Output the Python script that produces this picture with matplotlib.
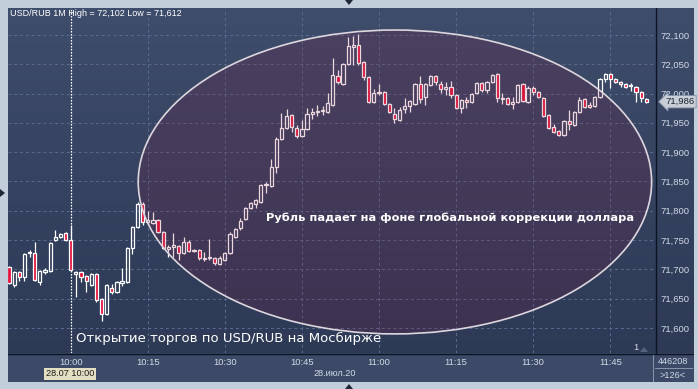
import matplotlib
matplotlib.use('Agg')
import matplotlib.pyplot as plt
from matplotlib.patches import Rectangle, Ellipse, Polygon
from matplotlib.colors import LinearSegmentedColormap
from matplotlib.lines import Line2D
import matplotlib.transforms as mtransforms
import numpy as np

plt.rcParams['font.family'] = ['Liberation Sans', 'DejaVu Sans']

# ---------------- data ----------------
minutes = list(range(-12, 113))  # minutes relative to 10:00
opens = [71.704, 71.673, 71.696, 71.687, 71.728, 71.728, 71.679, 71.696, 71.697, 71.750,
         71.755, 71.762, 71.750, 71.692, 71.696, 71.689, 71.673, 71.692, 71.650, 71.624,
         71.668, 71.661, 71.677, 71.679, 71.737, 71.772, 71.812, 71.781, 71.779, 71.784,
         71.764, 71.735, 71.738, 71.740, 71.728, 71.747, 71.731, 71.733, 71.719, 71.719,
         71.719, 71.709, 71.716, 71.728, 71.755, 71.771, 71.786, 71.805, 71.812, 71.815,
         71.844, 71.842, 71.875, 71.923, 71.941, 71.963, 71.941, 71.928, 71.940, 71.965,
         71.969, 71.970, 71.969, 71.981, 72.030, 72.016, 72.051, 72.080, 72.083, 72.054,
         72.028, 71.986, 72.001, 72.003, 71.982, 71.965, 71.955, 71.974, 71.979, 71.982,
         72.016, 71.994, 72.015, 72.030, 72.016, 72.008, 72.011, 71.998, 71.975, 71.989,
         71.986, 72.001, 72.018, 72.006, 72.020, 72.033, 71.992, 71.992, 71.982, 71.986,
         72.016, 71.986, 72.010, 72.003, 71.992, 71.963, 71.943, 71.936, 71.929, 71.953,
         71.946, 71.969, 71.991, 71.981, 71.979, 71.994, 72.025, 72.033, 72.025, 72.020,
         72.016, 72.013, 72.011, 72.003, 71.991]
highs = [71.706, 71.697, 71.697, 71.728, 71.733, 71.747, 71.699, 71.702, 71.747, 71.767,
         71.762, 71.764, 71.776, 71.697, 71.697, 71.690, 71.694, 71.694, 71.651, 71.675,
         71.675, 71.680, 71.702, 71.738, 71.774, 71.814, 71.814, 71.800, 71.798, 71.786,
         71.766, 71.742, 71.762, 71.742, 71.755, 71.750, 71.735, 71.735, 71.730, 71.752,
         71.721, 71.723, 71.730, 71.764, 71.771, 71.788, 71.807, 71.815, 71.820, 71.846,
         71.849, 71.888, 71.925, 71.967, 71.974, 71.965, 71.946, 71.955, 71.975, 71.975,
         71.981, 71.979, 72.001, 72.061, 72.040, 72.052, 72.097, 72.098, 72.102, 72.056,
         72.030, 72.008, 72.016, 72.005, 71.984, 71.975, 71.977, 71.992, 71.989, 72.018,
         72.030, 72.018, 72.032, 72.032, 72.022, 72.020, 72.022, 72.000, 71.991, 71.994,
         72.001, 72.020, 72.020, 72.022, 72.034, 72.035, 72.001, 71.994, 71.994, 72.017,
         72.018, 72.012, 72.013, 72.005, 71.994, 71.965, 71.948, 71.938, 71.955, 71.972,
         71.971, 71.994, 71.993, 71.986, 71.996, 72.027, 72.035, 72.035, 72.027, 72.022,
         72.018, 72.018, 72.013, 72.005, 71.992]
lows = [71.675, 71.670, 71.680, 71.680, 71.721, 71.680, 71.673, 71.692, 71.696, 71.748,
        71.753, 71.748, 71.697, 71.653, 71.679, 71.661, 71.672, 71.644, 71.612, 71.622,
        71.658, 71.659, 71.672, 71.677, 71.726, 71.770, 71.776, 71.776, 71.777, 71.762,
        71.735, 71.721, 71.721, 71.716, 71.726, 71.729, 71.729, 71.716, 71.714, 71.716,
        71.708, 71.707, 71.714, 71.726, 71.753, 71.767, 71.784, 71.803, 71.805, 71.813,
        71.830, 71.840, 71.865, 71.921, 71.940, 71.934, 71.924, 71.926, 71.938, 71.957,
        71.962, 71.963, 71.967, 71.979, 72.016, 72.014, 72.049, 72.049, 72.049, 72.023,
        71.984, 71.984, 71.998, 71.980, 71.967, 71.950, 71.953, 71.967, 71.969, 71.980,
        71.984, 71.981, 72.013, 72.015, 72.001, 71.998, 71.992, 71.973, 71.967, 71.975,
        71.984, 71.999, 72.003, 72.001, 72.018, 71.986, 71.982, 71.980, 71.974, 71.984,
        71.985, 71.984, 71.998, 71.992, 71.960, 71.939, 71.933, 71.927, 71.927, 71.938,
        71.944, 71.967, 71.975, 71.975, 71.977, 71.992, 72.020, 72.010, 72.018, 72.011,
        72.010, 72.004, 71.986, 71.986, 71.984]
closes = [71.677, 71.696, 71.687, 71.726, 71.729, 71.682, 71.697, 71.699, 71.745, 71.755,
          71.760, 71.750, 71.699, 71.696, 71.687, 71.680, 71.692, 71.648, 71.624, 71.673,
          71.661, 71.679, 71.680, 71.737, 71.772, 71.812, 71.781, 71.784, 71.784, 71.764,
          71.737, 71.738, 71.742, 71.728, 71.747, 71.731, 71.733, 71.719, 71.718, 71.719,
          71.711, 71.719, 71.728, 71.760, 71.769, 71.783, 71.805, 71.813, 71.818, 71.844,
          71.846, 71.875, 71.923, 71.941, 71.962, 71.943, 71.928, 71.940, 71.965, 71.969,
          71.970, 71.972, 71.984, 72.032, 72.020, 72.051, 72.081, 72.083, 72.052, 72.028,
          71.986, 72.001, 72.002, 71.982, 71.969, 71.957, 71.972, 71.979, 71.987, 72.016,
          71.991, 72.016, 72.030, 72.020, 72.008, 72.011, 71.998, 71.975, 71.989, 71.986,
          71.999, 72.018, 72.006, 72.020, 72.032, 71.992, 71.991, 71.982, 71.986, 72.015,
          71.987, 72.010, 72.003, 71.994, 71.962, 71.941, 71.934, 71.929, 71.953, 71.948,
          71.969, 71.989, 71.977, 71.977, 71.994, 72.025, 72.033, 72.025, 72.020, 72.016,
          72.011, 72.013, 72.003, 71.992, 71.986]

price_ticks = [71.60, 71.65, 71.70, 71.75, 71.80, 71.85, 71.90, 71.95, 72.00, 72.05, 72.10]
price_labels = ['71,600', '71,650', '71,700', '71,750', '71,800', '71,850',
                '71,900', '71,950', '72,000', '72,050', '72,100']
time_ticks = [0, 15, 30, 45, 60, 75, 90, 105]
time_labels = ['10:00', '10:15', '10:30', '10:45', '11:00', '11:15', '11:30', '11:45']

title_text = 'USD/RUB 1M High = 72,102 Low = 71,612'
last_price_label = '71,986'
last_price = 71.986
note_main = 'Рубль падает на фоне глобальной коррекции доллара'
note_open = 'Открытие торгов по USD/RUB на Мосбирже'
date_box = '28.07 10:00'
date_label = '28.июл.20'
volume_label = '446208'
count_label = '>126<'

# ---------------- layout ----------------
W, H = 698, 389
def fx(px):
    return px / W
def fy(py):
    return 1 - py / H

fig = plt.figure(figsize=(W / 100, H / 100), dpi=100)
fig.patch.set_facecolor('#c3cedb')

# dark panel background with gradient (own axes, drawn first)
bg = fig.add_axes([fx(8), fy(382), fx(694) - fx(8), fy(8) - fy(382)], zorder=-5)
bg.axis('off')
grad = np.linspace(0, 1, 256).reshape(-1, 1)
cmap = LinearSegmentedColormap.from_list('bgc', ['#3e4d6b', '#2c3854'])
bg.imshow(grad, aspect='auto', cmap=cmap, extent=[0, 1, 0, 1])
bg.set_xlim(0, 1); bg.set_ylim(0, 1)
# bottom (time) panel inside the background axes
bg.add_patch(Rectangle((0, 0), 1, (382 - 353) / (382 - 8), facecolor='#3c4a68',
                       edgecolor='none', zorder=3))
# separators
bg.axvline((655.5 - 8) / (694 - 8), ymin=(382 - 353) / 374, ymax=1, color='#0c1424', linewidth=1.0, zorder=4)
bg.axhline((382 - 353.5) / 374, color='#0c1424', linewidth=1.0, zorder=4)
bg.axvline((653 - 8) / 686, ymin=0, ymax=(382 - 355) / 374, color='#8a96ab', linewidth=0.7, zorder=4)
bg.axhline((382 - 368) / 374, xmin=(655 - 8) / 686, xmax=(692 - 8) / 686, color='#8a96ab',
           linewidth=0.7, zorder=4)

ax = fig.add_axes([fx(8), fy(353), fx(655) - fx(8), fy(8) - fy(353)], zorder=1)
ax.set_facecolor('none')
ax.set_xlim(-12.2, 113.7)
ax.set_ylim(71.557, 72.146)
for s in ax.spines.values():
    s.set_visible(False)

ax.set_yticks(price_ticks)
ax.set_yticklabels(price_labels)
ax.yaxis.tick_right()
ax.tick_params(axis='y', length=0, pad=4, labelcolor='#d2d9e6', labelsize=6.8)
ax.set_xticks(time_ticks)
ax.set_xticklabels(time_labels)
ax.tick_params(axis='x', length=0, pad=3.5, labelcolor='#d2d9e6', labelsize=6.8)
ax.grid(True, color='#5a6b8d', linestyle=(0, (3, 3)), linewidth=0.7)
ax.set_axisbelow(True)

# market-open dotted line
ax.axvline(0, color='white', linestyle=(0, (1.2, 1.2)), linewidth=0.9, zorder=1.5)

# candles
red = '#e3123b'
bw = 0.62
for t, o, h, l, c in zip(minutes, opens, highs, lows, closes):
    top = max(o, c)
    bot = min(o, c)
    ax.vlines(t, top, h, color='white', linewidth=0.9, zorder=2)
    ax.vlines(t, l, bot, color='white', linewidth=0.9, zorder=2)
    up = c >= o
    hgt = max(top - bot, 0.0012)
    ax.add_patch(Rectangle((t - bw / 2, bot), bw, hgt,
                           facecolor='none' if up else red,
                           edgecolor='white', linewidth=0.9, zorder=3))

# highlight ellipse
ecx, ecy, ew, eh = 63.09, 71.849, 99.9, 0.5188
ax.add_patch(Ellipse((ecx, ecy), ew, eh, facecolor=(0.56, 0.04, 0.2, 0.16),
                     edgecolor='none', zorder=4))
ax.add_patch(Ellipse((ecx, ecy), ew, eh, facecolor='none',
                     edgecolor='#ddd6de', linewidth=1.2, zorder=4.5))

# texts inside chart
ax.text(0.003, 0.983, title_text, transform=ax.transAxes, color='white',
        fontsize=6.5, ha='left', va='center', zorder=6)
ax.text(0.683, 0.391, note_main, transform=ax.transAxes, color='white',
        fontsize=8.2, fontweight='bold', family='DejaVu Sans',
        ha='center', va='center', zorder=6)
ax.text(0.105, 0.041, note_open, transform=ax.transAxes, color='white',
        fontsize=9.5, family='DejaVu Sans', ha='left', va='center', zorder=6)

# current price marker on the price scale
trans = mtransforms.blended_transform_factory(ax.transAxes, ax.transData)
ax.text(1.016, last_price, last_price_label, transform=trans, color='#1a2233',
        fontsize=6.8, ha='left', va='center', clip_on=False, zorder=8,
        bbox=dict(boxstyle='larrow,pad=0.18', facecolor='#c8cdd6',
                  edgecolor='#8591a6', linewidth=0.6))

# bottom panel texts
fig.text(fx(70), fy(374), date_box, color='#1a1a1a', fontsize=6.6, ha='center', va='center',
         bbox=dict(boxstyle='square,pad=0.18', facecolor='#e3dfc3', edgecolor='none'))
fig.text(fx(335), fy(374), date_label, color='#d2d9e6', fontsize=6.6, ha='center', va='center')
fig.text(fx(673), fy(361), volume_label, color='#d2d9e6', fontsize=6.6, ha='center', va='center')
fig.text(fx(673), fy(375), count_label, color='#d2d9e6', fontsize=6.6, ha='center', va='center')
fig.text(fx(636), fy(347), '1', color='#d2d9e6', fontsize=6.8, ha='center', va='center')
fig.add_artist(Polygon([[fx(640), fy(352)], [fx(648), fy(352)], [fx(644), fy(347)]],
                       closed=True, transform=fig.transFigure, facecolor='#55637f', edgecolor='none'))

# window edge arrows
fig.add_artist(Polygon([[fx(345), fy(0)], [fx(353), fy(0)], [fx(349), fy(5)]],
                       closed=True, transform=fig.transFigure, facecolor='#1e2638', edgecolor='none'))
fig.add_artist(Polygon([[fx(345), fy(389)], [fx(353), fy(389)], [fx(349), fy(384)]],
                       closed=True, transform=fig.transFigure, facecolor='#1e2638', edgecolor='none'))
fig.add_artist(Polygon([[fx(0), fy(189)], [fx(0), fy(197)], [fx(5), fy(193)]],
                       closed=True, transform=fig.transFigure, facecolor='#1e2638', edgecolor='none'))

fig.savefig('out.png', dpi=100, facecolor=fig.get_facecolor())
